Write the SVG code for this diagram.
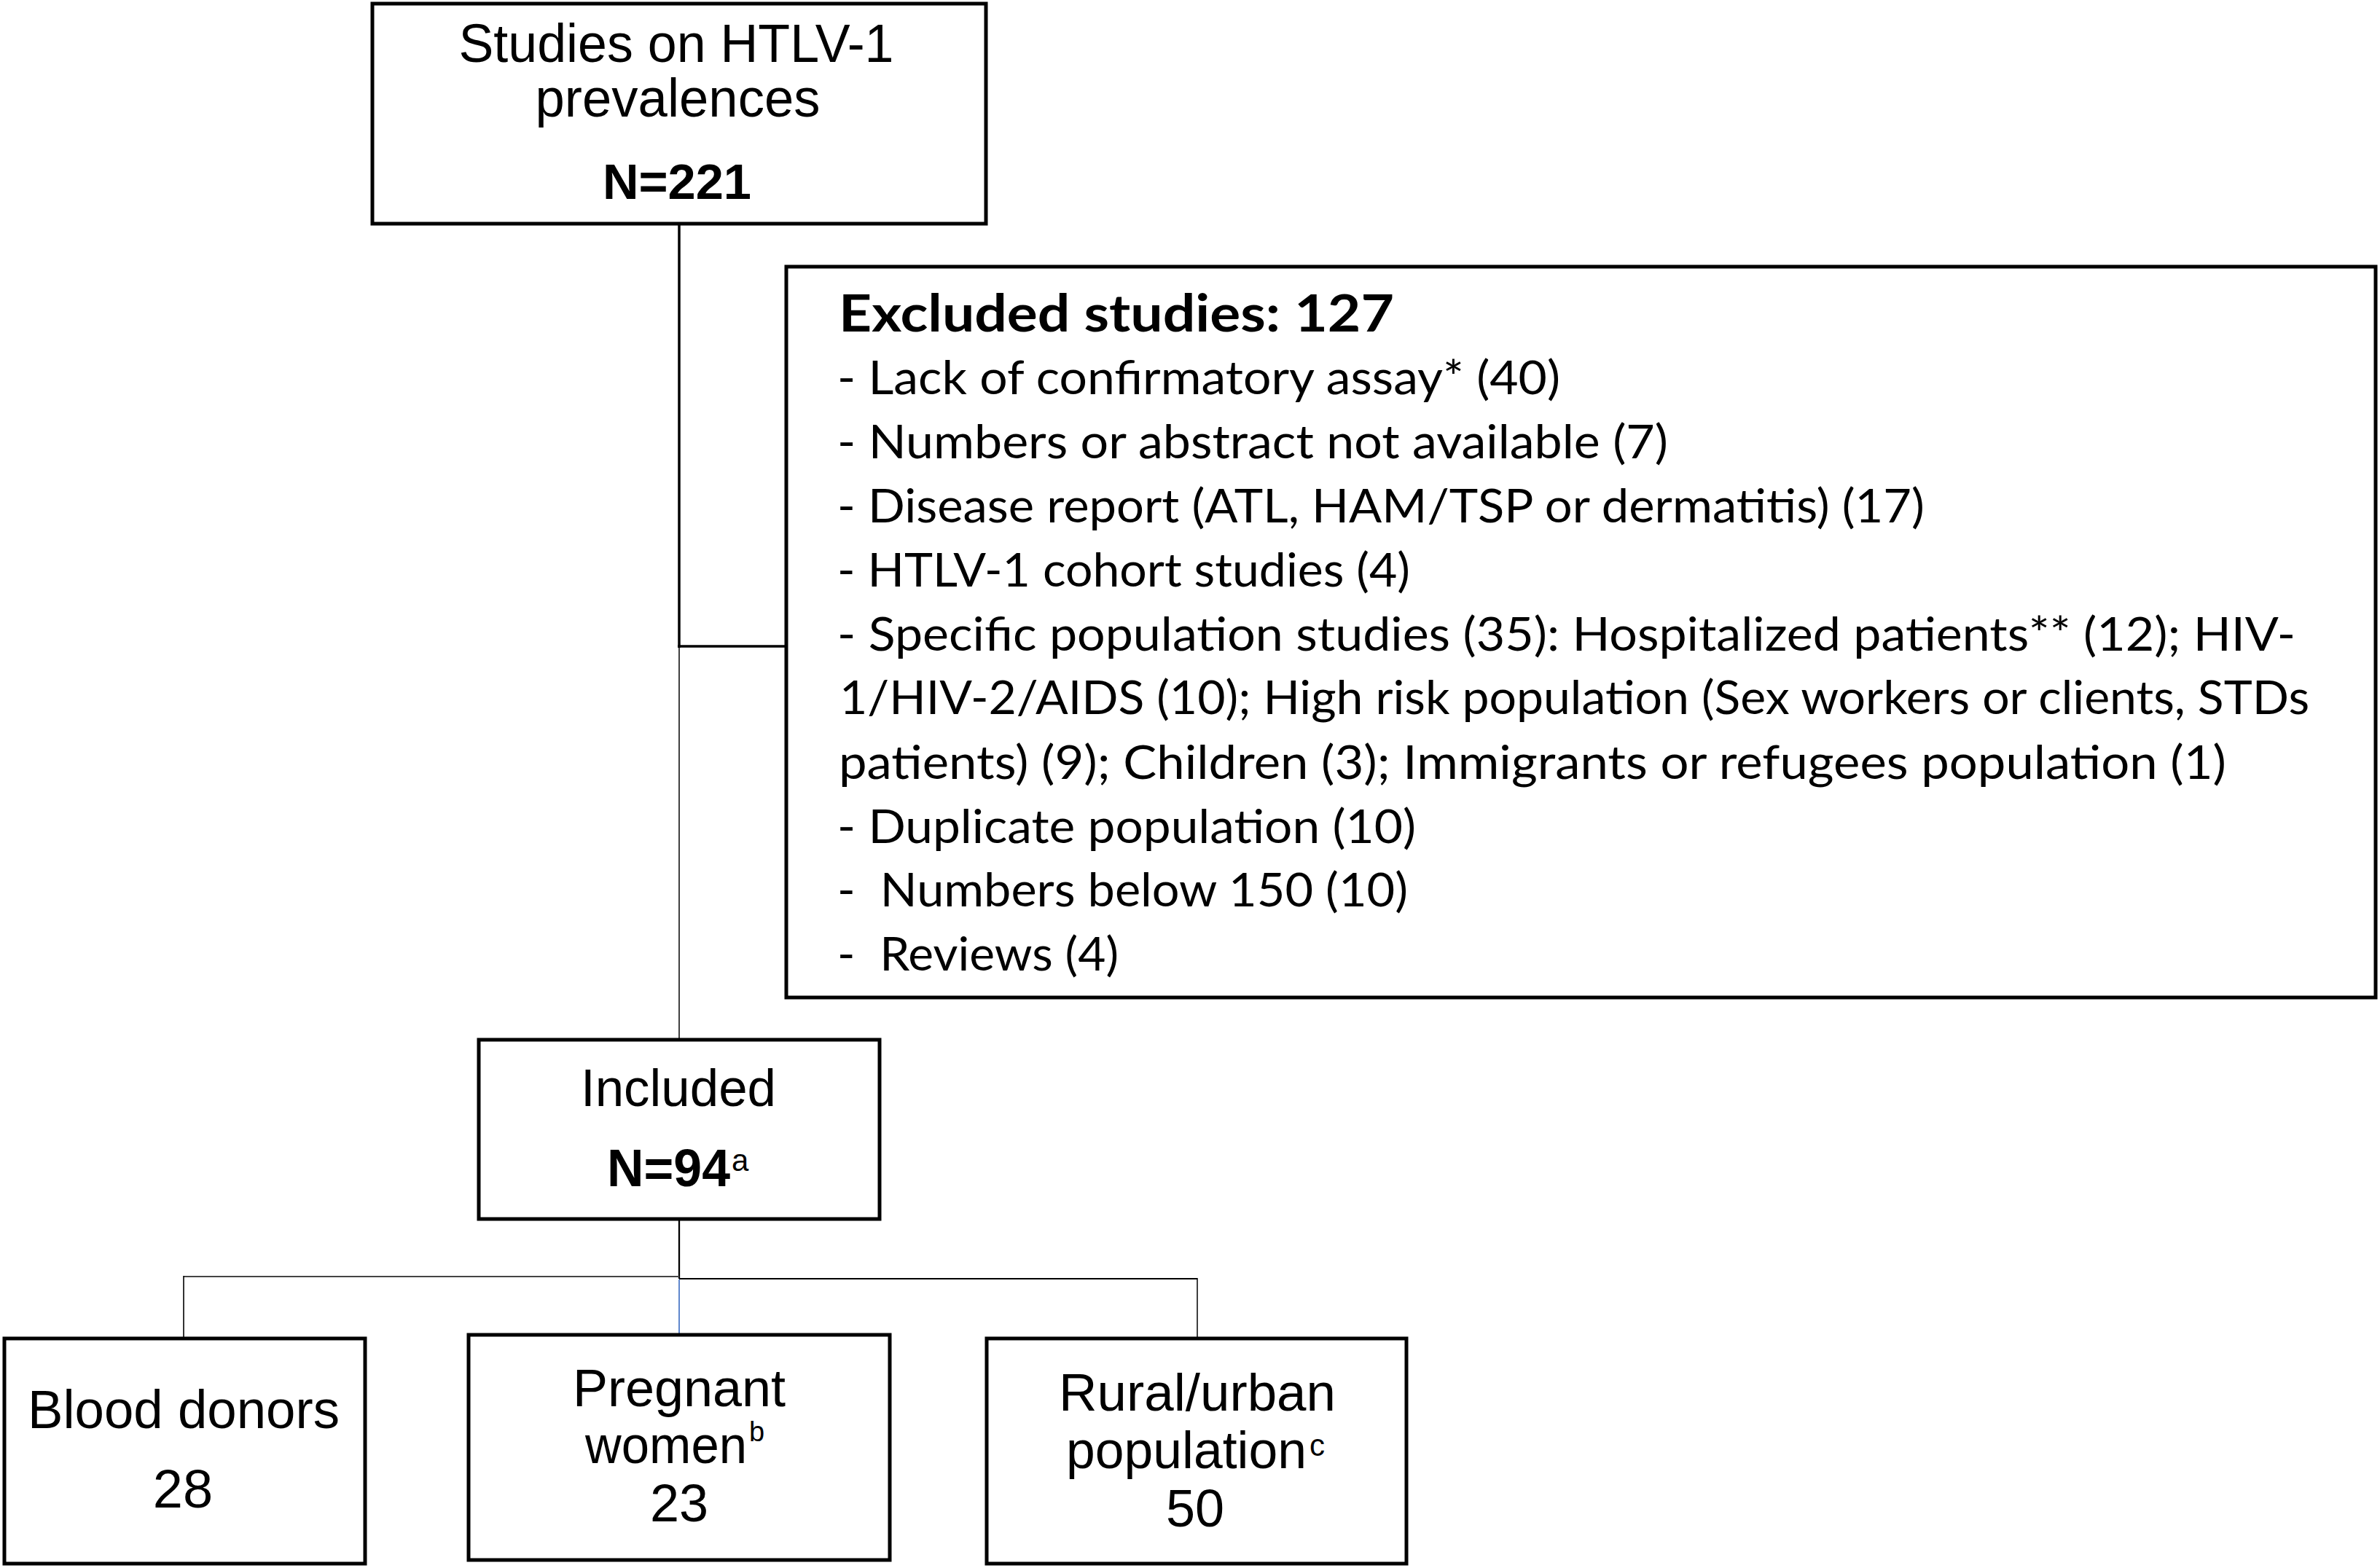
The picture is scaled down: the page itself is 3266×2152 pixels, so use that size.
<svg xmlns="http://www.w3.org/2000/svg" width="3266" height="2152" viewBox="0 0 3266 2152">
<style>
.box{fill:#ffffff;stroke:#000000;stroke-width:5}
.ar{font-family:"Liberation Sans",Arial,sans-serif;fill:#000000}
.arb{font-family:"Liberation Sans",Arial,sans-serif;font-weight:bold;fill:#000000}
.cal{font-family:Lato,"Open Sans",sans-serif;font-size:64px;fill:#000000}
.calb{font-family:Lato,"Open Sans",sans-serif;font-size:71px;font-weight:bold;fill:#000000}
.ln{fill:none;stroke:#000000}
</style>
<rect x="0" y="0" width="3266" height="2152" fill="#ffffff"/>
<g id="connectors">
<line class="ln" x1="932" y1="308" x2="932" y2="889" stroke-width="3.5"/>
<line class="ln" x1="930" y1="887" x2="1079" y2="887" stroke-width="3.5"/>
<line class="ln" x1="932" y1="887" x2="932" y2="1427" stroke-width="1.5"/>
<line class="ln" x1="932" y1="1673" x2="932" y2="1755" stroke-width="2.3"/>
<line x1="252" y1="1752" x2="932" y2="1752" stroke="#444444" stroke-width="1.8"/>
<line class="ln" x1="252" y1="1751" x2="252" y2="1835" stroke-width="1.6"/>
<line class="ln" x1="932" y1="1755" x2="1643" y2="1755" stroke-width="2"/>
<line class="ln" x1="1643" y1="1754" x2="1643" y2="1835" stroke-width="1.5"/>
<line x1="932" y1="1756" x2="932" y2="1830" stroke="#4472C4" stroke-width="1.7"/>
</g>
<g id="node-studies">
<rect class="box" x="511" y="5" width="842" height="302"/>
<text class="ar" x="928" y="85" font-size="74" text-anchor="middle" textLength="597" lengthAdjust="spacingAndGlyphs">Studies on HTLV-1</text>
<text class="ar" x="930" y="160" font-size="74" text-anchor="middle" textLength="391" lengthAdjust="spacingAndGlyphs">prevalences</text>
<text class="arb" x="929" y="273" font-size="68" text-anchor="middle" textLength="204" lengthAdjust="spacingAndGlyphs">N=221</text>
</g>
<g id="node-excluded">
<rect class="box" x="1079" y="366" width="2181" height="1003" stroke-width="4.5"/>
<text class="calb" x="1151" y="455" textLength="762" lengthAdjust="spacingAndGlyphs">Excluded studies: 127</text>
<text class="cal" x="1149" y="541" textLength="992" lengthAdjust="spacingAndGlyphs">- Lack of confirmatory assay* (40)</text>
<text class="cal" x="1149" y="629" textLength="1140" lengthAdjust="spacingAndGlyphs">- Numbers or abstract not available (7)</text>
<text class="cal" x="1149" y="717" textLength="1492" lengthAdjust="spacingAndGlyphs">- Disease report (ATL, HAM/TSP or dermatitis) (17)</text>
<text class="cal" x="1149" y="805" textLength="786" lengthAdjust="spacingAndGlyphs">- HTLV-1 cohort studies (4)</text>
<text class="cal" x="1149" y="893" textLength="2001" lengthAdjust="spacingAndGlyphs">- Specific population studies (35): Hospitalized patients** (12); HIV-</text>
<text class="cal" x="1152" y="980" textLength="2017" lengthAdjust="spacingAndGlyphs">1/HIV-2/AIDS (10); High risk population (Sex workers or clients, STDs</text>
<text class="cal" x="1151" y="1069" textLength="1904" lengthAdjust="spacingAndGlyphs">patients) (9); Children (3); Immigrants or refugees population (1)</text>
<text class="cal" x="1149" y="1157" textLength="794" lengthAdjust="spacingAndGlyphs">- Duplicate population (10)</text>
<text class="cal" x="1149" y="1244" textLength="783" lengthAdjust="spacingAndGlyphs" xml:space="preserve">-  Numbers below 150 (10)</text>
<text class="cal" x="1149" y="1332" textLength="386" lengthAdjust="spacingAndGlyphs" xml:space="preserve">-  Reviews (4)</text>
</g>
<g id="node-included">
<rect class="box" x="657" y="1427" width="550" height="246"/>
<text class="ar" x="931" y="1518" font-size="73" text-anchor="middle" textLength="268" lengthAdjust="spacingAndGlyphs">Included</text>
<text class="arb" x="833" y="1628" font-size="73" textLength="169" lengthAdjust="spacingAndGlyphs">N=94</text>
<text class="ar" x="1004" y="1607" font-size="42">a</text>
</g>
<g id="node-blood">
<rect class="box" x="6" y="1837" width="495" height="309"/>
<text class="ar" x="252" y="1960" font-size="74" text-anchor="middle" textLength="428" lengthAdjust="spacingAndGlyphs">Blood donors</text>
<text class="ar" x="251" y="2069" font-size="74" text-anchor="middle">28</text>
</g>
<g id="node-pregnant">
<rect class="box" x="643" y="1832" width="578" height="309"/>
<text class="ar" x="932" y="1930" font-size="72" text-anchor="middle">Pregnant</text>
<text class="ar" x="803" y="2008" font-size="72" textLength="222" lengthAdjust="spacingAndGlyphs">women</text>
<text class="ar" x="1028" y="1978" font-size="38">b</text>
<text class="ar" x="932" y="2088" font-size="72" text-anchor="middle">23</text>
</g>
<g id="node-rural">
<rect class="box" x="1354" y="1837" width="576" height="309"/>
<text class="ar" x="1643" y="1936" font-size="73" text-anchor="middle" textLength="380" lengthAdjust="spacingAndGlyphs">Rural/urban</text>
<text class="ar" x="1463" y="2015" font-size="72" textLength="330" lengthAdjust="spacingAndGlyphs">population</text>
<text class="ar" x="1797" y="1998" font-size="42">c</text>
<text class="ar" x="1640" y="2095" font-size="72" text-anchor="middle">50</text>
</g>
</svg>
